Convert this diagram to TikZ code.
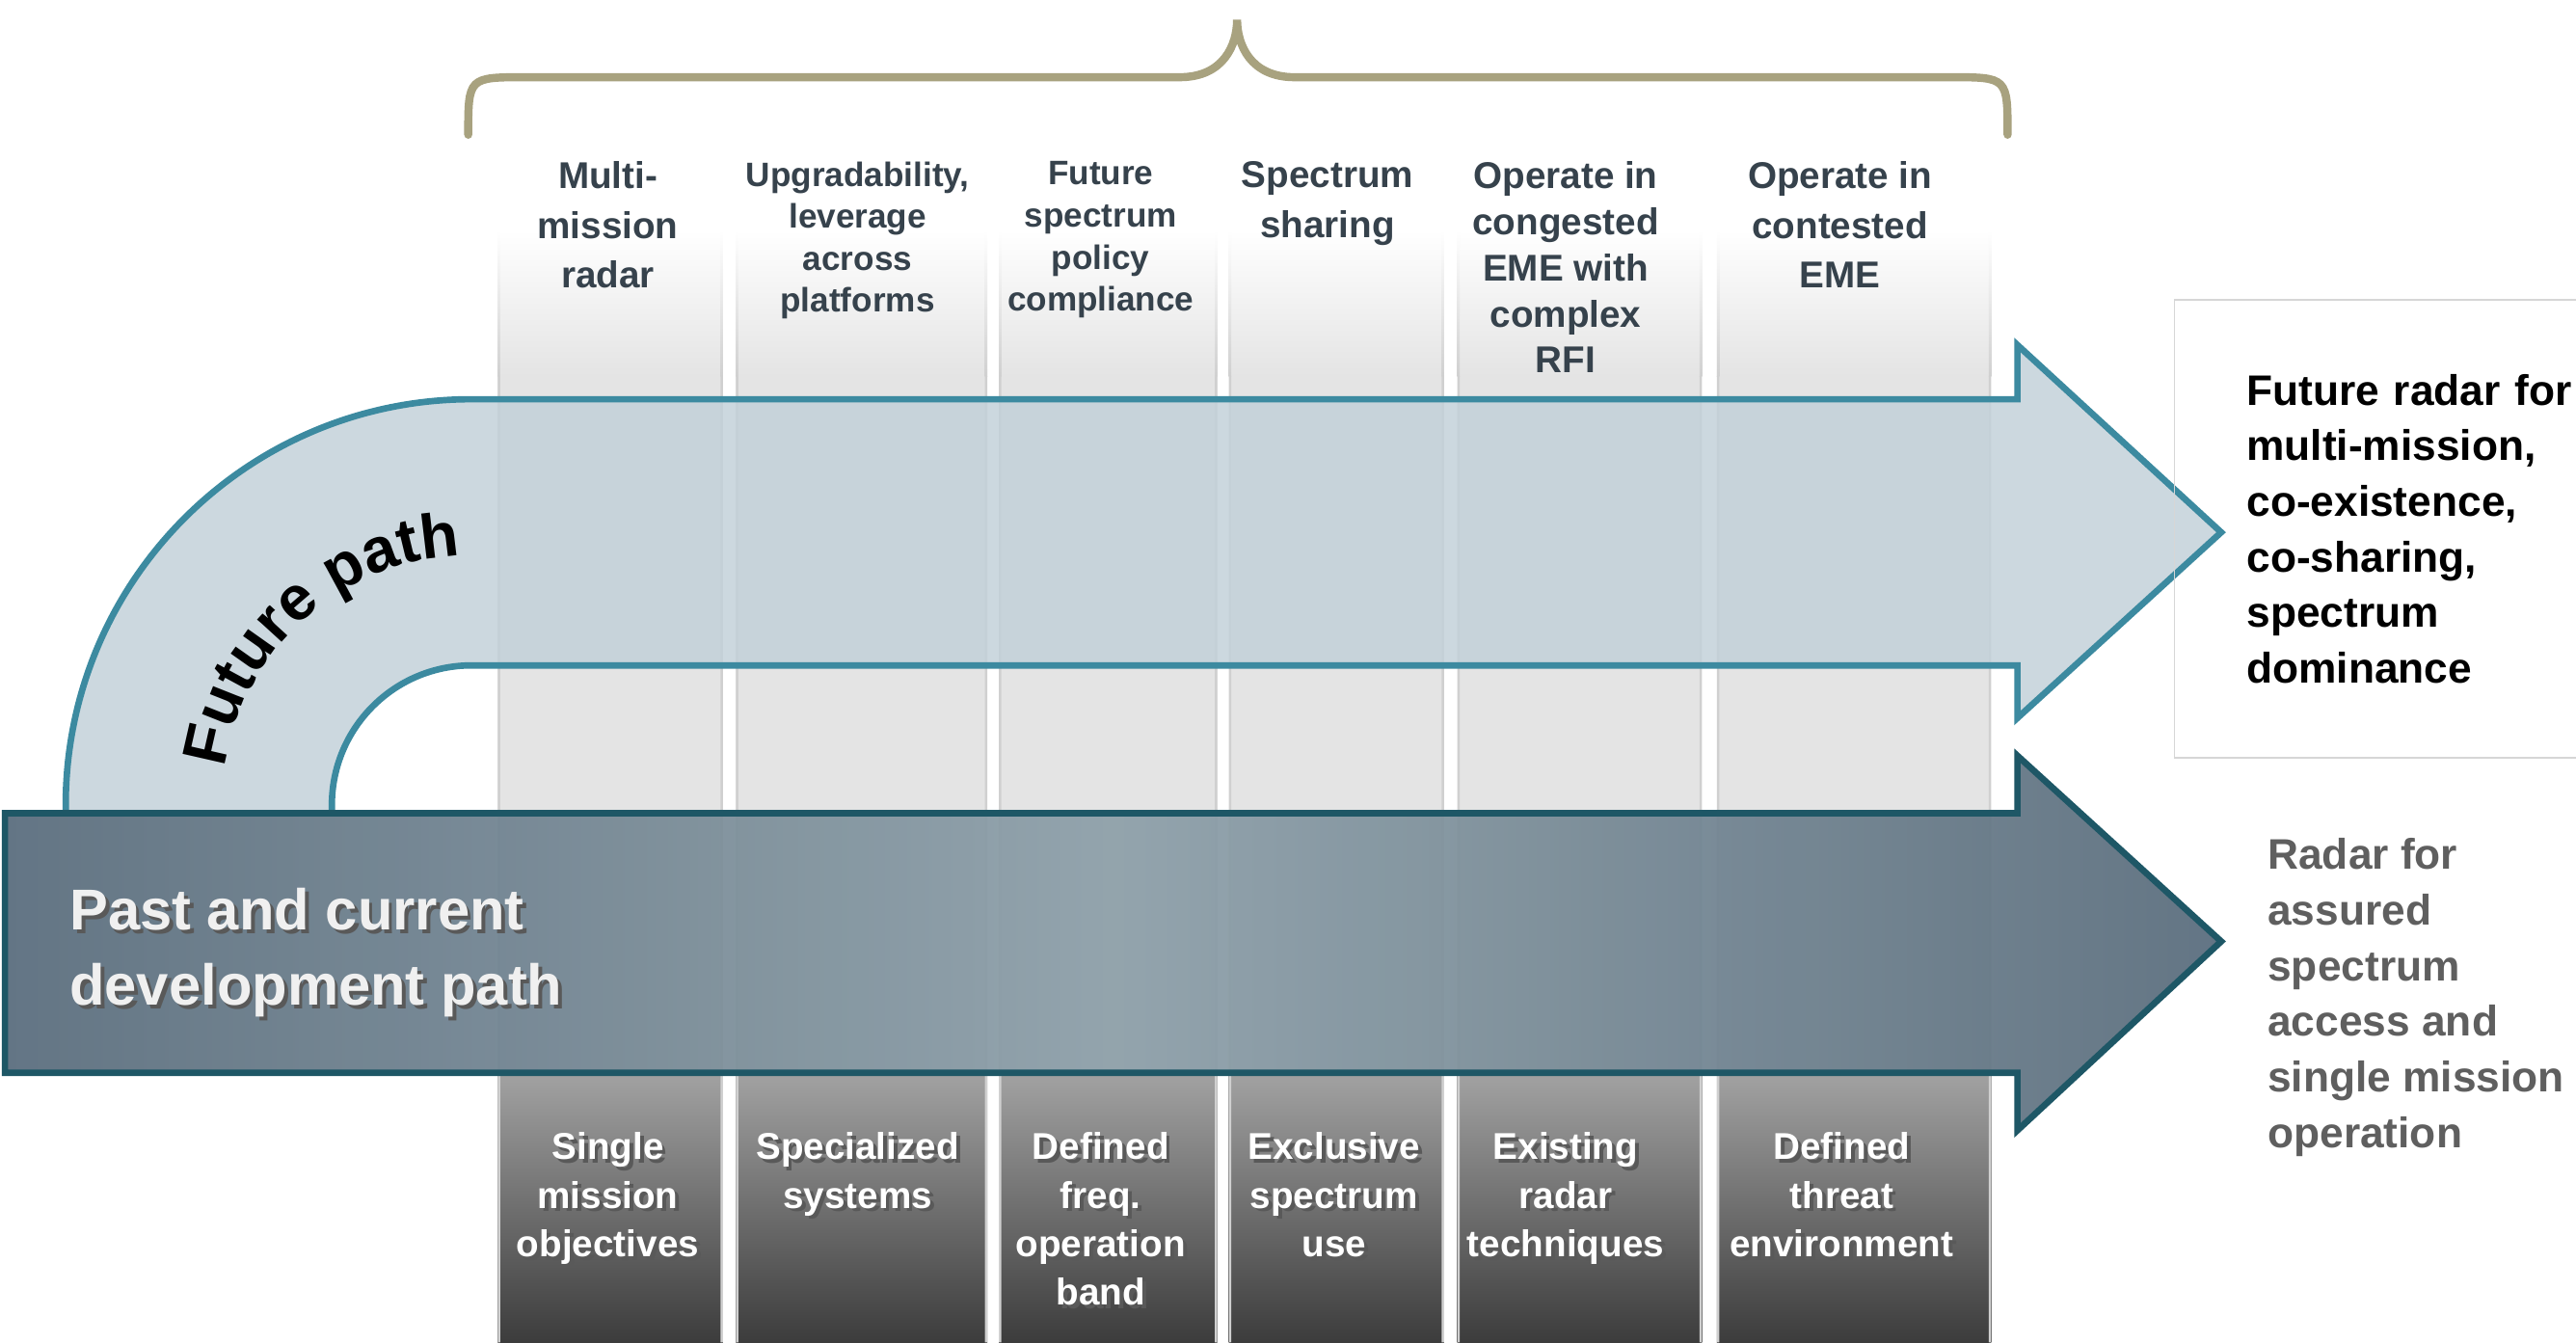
\documentclass[tikz,border=0pt]{standalone}
\usepackage{fontspec}
\setmainfont{Liberation Sans}
\usepackage{tikz}
\usetikzlibrary{decorations.text}

\definecolor{bracecol}{HTML}{A8A27F}
\definecolor{headcol}{HTML}{36424C}
\definecolor{futfill}{HTML}{C3D1D9}
\definecolor{futline}{HTML}{3C8AA0}
\definecolor{pastline}{HTML}{1E5766}
\definecolor{pastdark}{HTML}{5B6E7E}
\definecolor{pastlight}{HTML}{8FA1AA}
\definecolor{colgray}{HTML}{E4E4E4}
\definecolor{coledge}{HTML}{D0D0D0}
\definecolor{lowtop}{HTML}{A2A2A2}
\definecolor{lowbot}{HTML}{3C3C3C}
\definecolor{radgray}{HTML}{5F5F5F}
\definecolor{boxline}{HTML}{D6D6D6}

% white text with a soft drop shadow
\newcommand\shtxt[1]{\rlap{\kern1.1pt\raisebox{-1.1pt}{\textcolor{black!65}{#1}}}#1}

\tikzset{
  head/.style={anchor=north, align=center, inner sep=0pt, text=headcol,
    font=\bfseries\fontsize{11}{14.6}\selectfont},
  headsmall/.style={head, font=\bfseries\fontsize{10}{12.4}\selectfont},
  foot/.style={anchor=north, align=center, inner sep=0pt, text=white,
    font=\bfseries\fontsize{11}{14.3}\selectfont},
  fbox/.style={draw=boxline, line width=0.5pt, anchor=north west, align=left,
    text width=4.2cm, minimum height=4.75cm, inner xsep=0.75cm,
    font=\bfseries\fontsize{12.6}{16.4}\selectfont},
  radtext/.style={anchor=north west, align=left, inner sep=0pt, text=radgray,
    font=\bfseries\fontsize{12.6}{16.4}\selectfont},
  pasttext/.style={anchor=north west, align=left, inner sep=0pt, text=white!94!black,
    font=\bfseries\fontsize{17}{22.3}\selectfont},
}

\begin{document}
\begin{tikzpicture}[x=0.01704cm, y=0.01704cm]

        \useasboundingbox (0,0) rectangle (1568,817);

        % columns
        \foreach \xl/\xr in {303/440, 448/601, 608/741, 748/879, 887/1036, 1045/1212} {
            \shade[top color=white, bottom color=colgray] (\xl,588) rectangle (\xr,677);
            \fill[colgray] (\xl,164) rectangle (\xr,588.5);
            \shade[top color=lowtop, bottom color=lowbot] (\xl,0) rectangle (\xr,164);
            \fill[coledge] (\xl,0) rectangle ++(1.5,588) (\xr,0) rectangle ++(-1.5,588);
            \shade[top color=white, bottom color=coledge] (\xl,588) rectangle ++(1.5,89);
            \shade[top color=white, bottom color=coledge] (\xr,588) rectangle ++(-1.5,89);
        }

        % brace over the columns
        \draw[bracecol, line width=2.4pt, line cap=round]
            (285,735) .. controls (285,770) .. (320,770) -- (718,770)
            .. controls (745,770) and (753,790) .. (753,805)
            .. controls (753,790) and (761,770) .. (788,770) -- (1187,770)
            .. controls (1222,770) .. (1222,735);

        % future path arrow
        \draw[futline, line width=1.9pt, fill=futfill, fill opacity=0.85, line join=miter]
            (40,322) -- (40,327) arc[start angle=180, end angle=90, radius=247]
            -- (1228,574) -- (1228,607) -- (1352,493) -- (1228,380) -- (1228,412)
            -- (287,412) arc[start angle=90, end angle=180, radius=85]
            -- (202,322) -- cycle;

        % past and current arrow
        \draw[pastline, line width=1.9pt, line join=miter, fill opacity=0.95,
              left color=pastdark, right color=pastdark, middle color=pastlight]
            (3,164) -- (3,322) -- (1228,322) -- (1228,357) -- (1352,244)
            -- (1228,129) -- (1228,164) -- cycle;

        \path[decorate, decoration={text along path, text align=center,
              text={|\bfseries\fontsize{18.5}{20}\selectfont|Future path}}]
            (287,327) ++(173:152) arc[start angle=173, end angle=91, radius=152];

        % column headings
        \node[head] (h1) at (370,719) {Multi-\\mission\\radar};
        \node[headsmall] (h2) at (522,719) {Upgradability,\\leverage\\across\\platforms};
        \node[headsmall] (h3) at (670,719) {Future\\spectrum\\policy\\compliance};
        \node[head] (h4) at (808,719) {Spectrum\\sharing};
        \node[head, font=\bfseries\fontsize{11}{13.6}\selectfont] (h5) at (953,719)
            {Operate in\\congested\\EME with\\complex\\RFI};
        \node[head] (h6) at (1120,719) {Operate in\\contested\\EME};

        % column footers
        \node[foot] (b1) at (370,128) {\shtxt{Single}\\\shtxt{mission}\\\shtxt{objectives}};
        \node[foot] (b2) at (522,128) {\shtxt{Specialized}\\\shtxt{systems}};
        \node[foot] (b3) at (670,128) {\shtxt{Defined}\\\shtxt{freq.}\\\shtxt{operation}\\\shtxt{band}};
        \node[foot] (b4) at (812,128) {\shtxt{Exclusive}\\\shtxt{spectrum}\\\shtxt{use}};
        \node[foot] (b5) at (953,128) {\shtxt{Existing}\\\shtxt{radar}\\\shtxt{techniques}};
        \node[foot] (b6) at (1121,128) {\shtxt{Defined}\\\shtxt{threat}\\\shtxt{environment}};

        \node[pasttext] (past) at (42,277) {\shtxt{Past and current}\\\shtxt{development\ path}};

        % outcomes on the right
        \node[fbox] (fut) at (1323,635)
            {Future radar for\\multi-mission,\\co-existence,\\co-sharing,\\spectrum\\dominance};
        \node[radtext] (rad) at (1380,307)
            {Radar for\\assured\\spectrum\\access and\\single mission\\operation};

\end{tikzpicture}
\end{document}
